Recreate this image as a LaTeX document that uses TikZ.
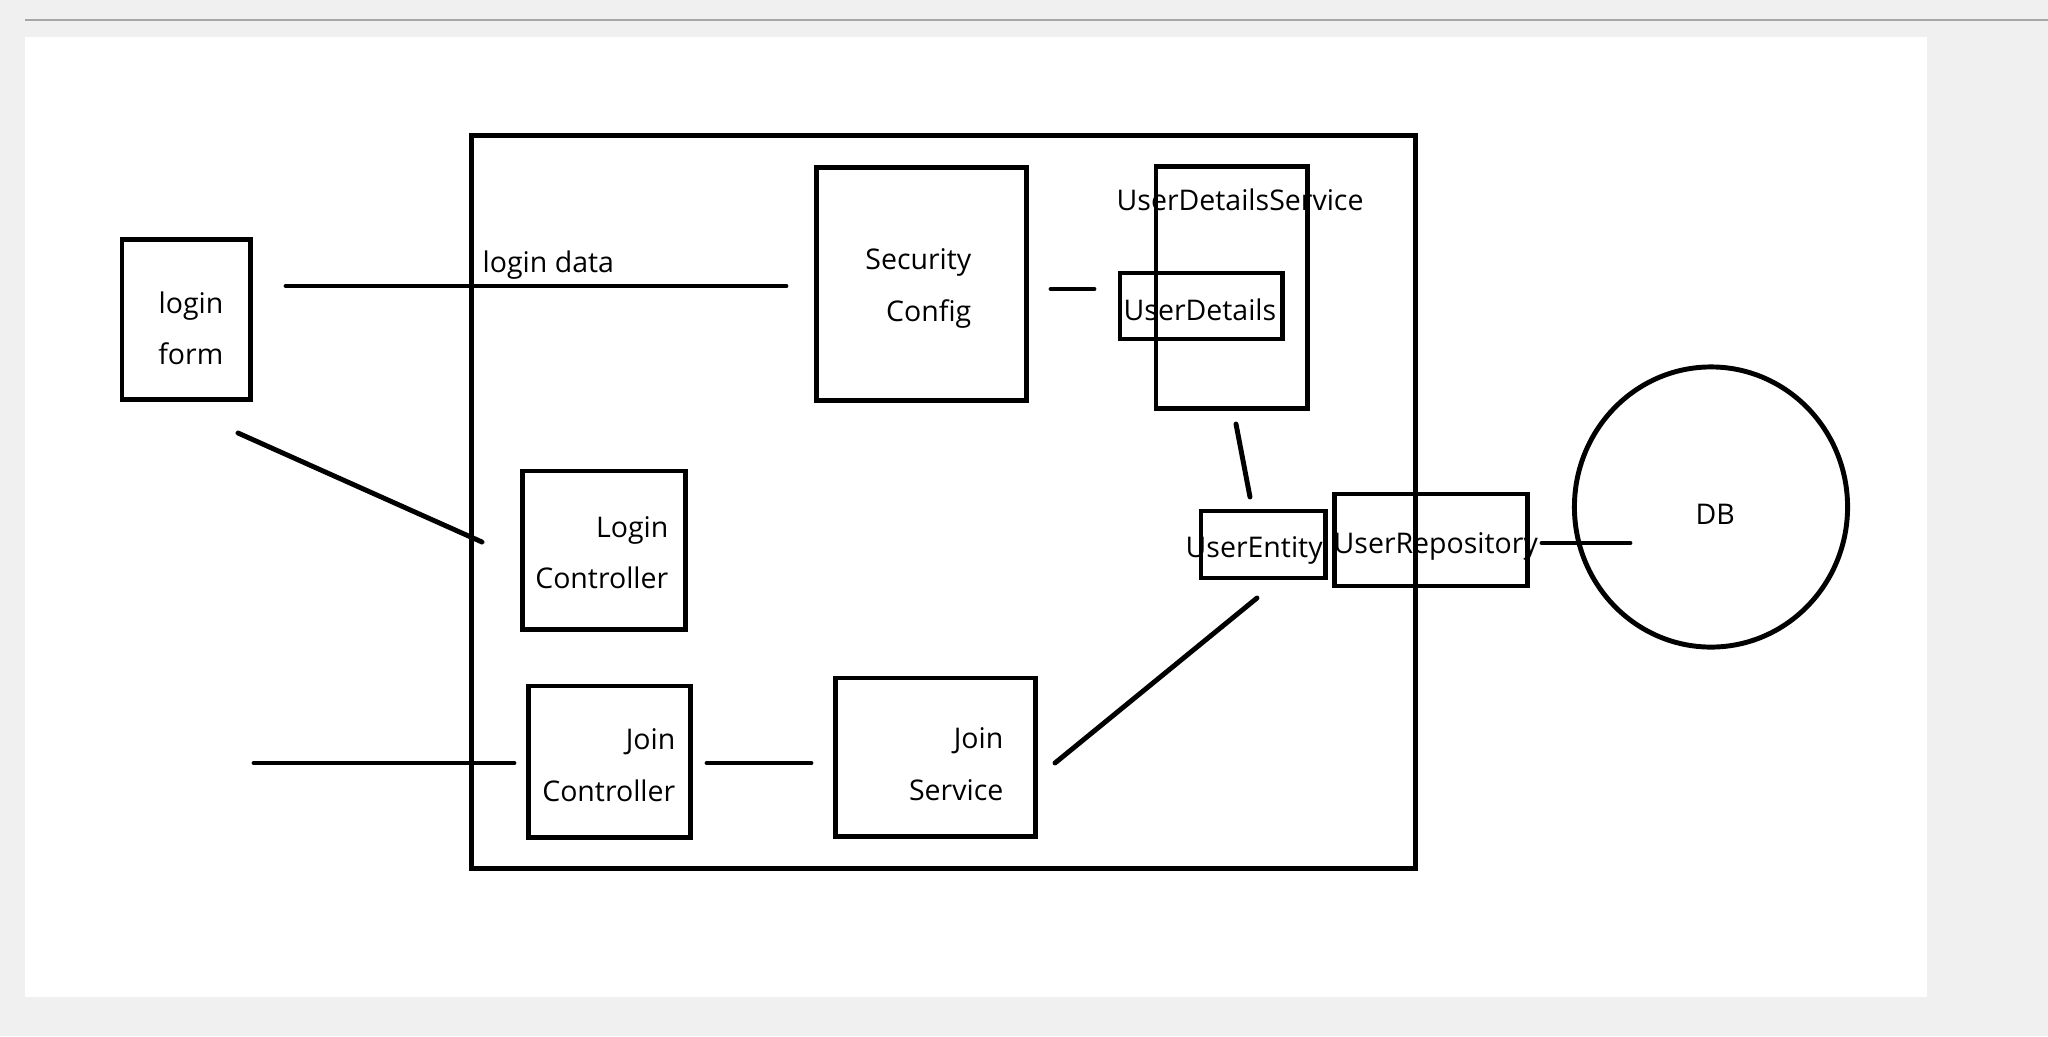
\documentclass[tikz,border=0pt]{standalone}
\usepackage{fontspec}
\setmainfont{Open Sans}
\usetikzlibrary{shapes.geometric}
\definecolor{pagebg}{HTML}{F0F0F0}
\definecolor{rulegray}{HTML}{A6A6A6}
\tikzset{
  boxnode/.style={draw, line width=1.4pt, inner sep=0pt, rectangle},
  txt/.style={font=\fontsize{8.1}{14.9}\selectfont, inner sep=0pt, text=black},
  conn/.style={line width=1.4pt, line cap=round},
}
\begin{document}
\begin{tikzpicture}[x=0.01cm, y=-0.01cm]
  % background
  \fill[pagebg] (0,0) rectangle (2048,1036);
  \useasboundingbox (0,0) rectangle (2048,1036);
  \draw[rulegray, line width=0.6pt] (25,20) -- (2048,20);
  \fill[white] (25,37) rectangle (1927,997);

  % outer container
  \node[boxnode, minimum width=9.44cm, minimum height=7.33cm] (outer) at (943.5,502) {};

  % boxes
  \node[boxnode, minimum width=1.28cm, minimum height=1.59cm] (loginform) at (186,319.5) {};
  \node[boxnode, minimum width=2.09cm, minimum height=2.32cm] (seccfg) at (921.5,284) {};
  \node[boxnode, minimum width=1.51cm, minimum height=2.41cm] (uds) at (1231.5,287.5) {};
  \node[boxnode, minimum width=1.62cm, minimum height=0.66cm] (ud) at (1201,306) {};
  \node[boxnode, minimum width=1.24cm, minimum height=0.67cm] (uentity) at (1263,544.5) {};
  \node[boxnode, minimum width=1.92cm, minimum height=0.92cm] (urepo) at (1431,540) {};
  \node[boxnode, ellipse, minimum width=2.73cm, minimum height=2.80cm] (db) at (1711,507) {};
  \node[boxnode, minimum width=1.62cm, minimum height=1.58cm] (loginctl) at (604,550) {};
  \node[boxnode, minimum width=1.61cm, minimum height=1.51cm] (joinctl) at (609.5,761.5) {};
  \node[boxnode, minimum width=1.99cm, minimum height=1.58cm] (joinsvc) at (935.5,757) {};

  % texts
  \node[txt, anchor=base east] (lf1) at (224,313) {login};
  \node[txt, anchor=base east] (lf2) at (224,364) {form};
  \node[txt, anchor=base west] (ldata) at (482,272) {login data};
  \node[txt, anchor=base east] (sc1) at (972,269) {Security};
  \node[txt, anchor=base east] (sc2) at (972,321) {Config};
  \node[txt, anchor=base west] (udst) at (1116,210) {UserDetailsService};
  \node[txt, anchor=base west] (udt) at (1123,320) {UserDetails};
  \node[txt, anchor=base east] (lc1) at (669,537) {Login};
  \node[txt, anchor=base east] (lc2) at (669,588) {Controller};
  \node[txt, anchor=base west] (uet) at (1185,557) {UserEntity};
  \node[txt, anchor=base west] (urt) at (1333,553) {UserRepository};
  \node[txt, anchor=base west] (dbt) at (1695,524) {DB};
  \node[txt, anchor=base east] (jc1) at (676,749) {Join};
  \node[txt, anchor=base east] (jc2) at (676,801) {Controller};
  \node[txt, anchor=base east] (js1) at (1004,748) {Join};
  \node[txt, anchor=base east] (js2) at (1004,800) {Service};

  % connector end points
  \coordinate (a1) at (286,286);   \coordinate (a2) at (786,286);
  \coordinate (b1) at (238,433);   \coordinate (b2) at (482,542);
  \coordinate (d1) at (1051,289);  \coordinate (d2) at (1094,289);
  \coordinate (e1) at (1236,424);  \coordinate (e2) at (1250,497);
  \coordinate (f1) at (1542,543);  \coordinate (f2) at (1630,543);
  \coordinate (g1) at (1257,598);  \coordinate (g2) at (1055,763);
  \coordinate (h1) at (254,763);   \coordinate (h2) at (514,763);
  \coordinate (k1) at (707,763);   \coordinate (k2) at (811,763);

  % connectors
  \draw[conn] (a1) -- (a2);
  \draw[conn] (b1) -- (b2);
  \draw[conn] (d1) -- (d2);
  \draw[conn] (e1) -- (e2);
  \draw[conn] (f1) -- (f2);
  \draw[conn] (g1) -- (g2);
  \draw[conn] (h1) -- (h2);
  \draw[conn] (k1) -- (k2);
\end{tikzpicture}
\end{document}
